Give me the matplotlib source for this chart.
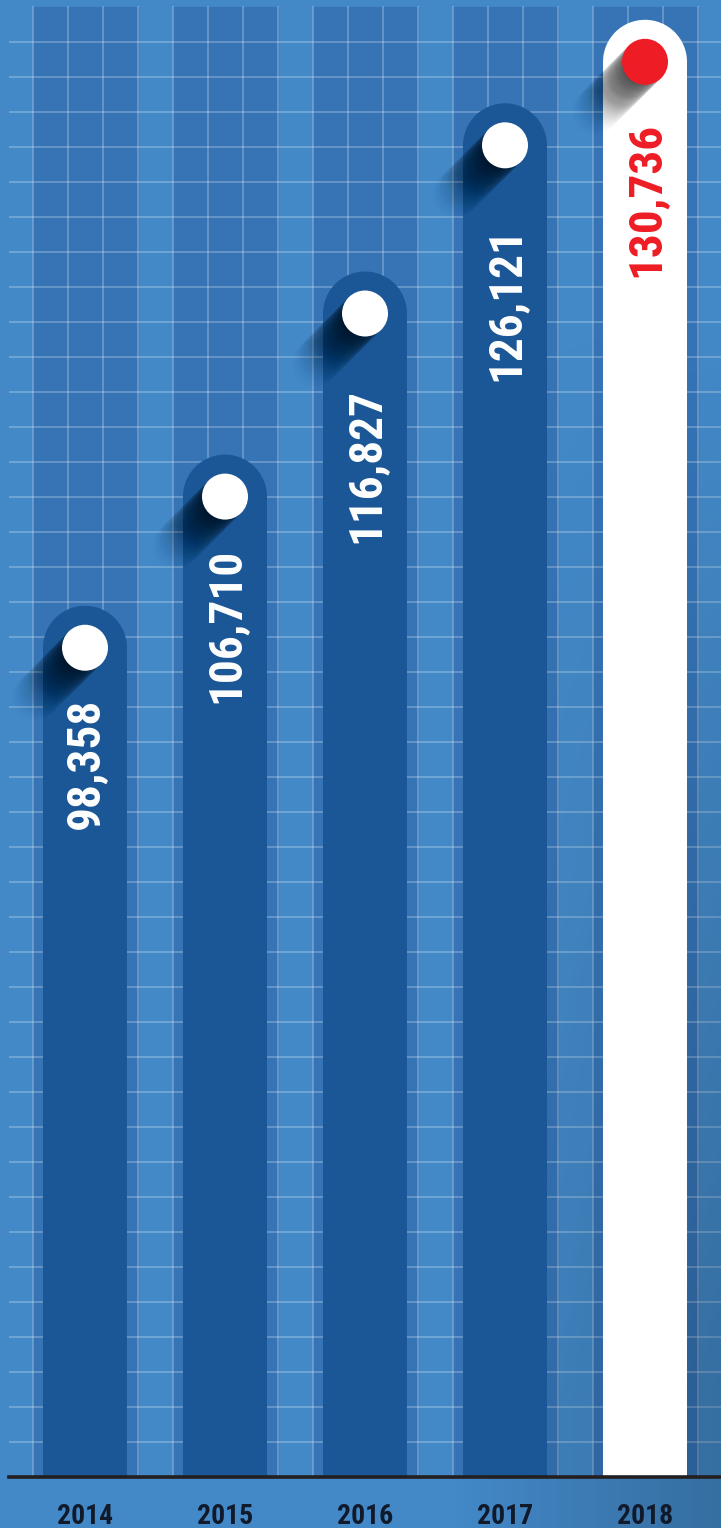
import numpy as np
import matplotlib.pyplot as plt
from matplotlib import font_manager as fm
from matplotlib.patches import Rectangle, Ellipse
from matplotlib.transforms import Affine2D

#%% Data
years = ['2014', '2015', '2016', '2017', '2018']
values = [98358, 106710, 116827, 126121, 130736]
labels = ['98,358', '106,710', '116,827', '126,121', '130,736']

#%% Style / layout (pixels unless noted)
W, H, DPI = 721, 1528, 100
base_col = '#4389c8'
column_col = '#3674b6'
bar_col = '#1b5796'
red = '#ee1c25'
ink = '#111a2a'
y_floor = 50200                 # value where bars start
ylim = (47396, 131830)
xlim = (-85 / 140, (W - 85) / 140)
cap_r = 42                      # bar end radius
dot_r = 23                      # dot radius
label_gap = [92, 93, 116, 123, 102]


def have_font(name):
    try:
        fm.findfont(fm.FontProperties(family=name), fallback_to_default=False)
        return True
    except ValueError:
        return False


### narrow bold face if there is one, else Roboto a bit smaller
if have_font('Roboto Condensed'):
    font, val_size, year_size = ['Roboto Condensed', 'DejaVu Sans'], 34, 20
elif have_font('Liberation Sans Narrow'):
    font, val_size, year_size = ['Liberation Sans Narrow', 'DejaVu Sans'], 34, 20
else:
    font, val_size, year_size = ['Roboto', 'DejaVu Sans'], 30, 17

fig = plt.figure(figsize=(W / DPI, H / DPI), dpi=DPI)

#%% Background grid (pixel coords)
bg = fig.add_axes([0, 0, 1, 1], zorder=0)
bg.add_patch(Rectangle((0, 0), W, H, color=base_col, zorder=0))
for i in range(len(years)):
    cx = 85 + 140 * i
    bg.add_patch(Rectangle((cx - 52.5, 7), 105, 1476 - 7, color=column_col, zorder=1))
bg.hlines(np.arange(42, 1477, 35), 9, W, color='white', alpha=0.3, lw=1.1, zorder=2)
bg.vlines(np.arange(33, W, 35), 6, 1476, color='white', alpha=0.3, lw=1.1, zorder=2)

## darker corner at the bottom right
xx, yy = np.meshgrid(np.arange(W), np.arange(H))
shade = np.zeros((H, W, 4))
shade[..., 3] = 0.2 * np.clip((xx - 450) / 271, 0, 1) * np.clip((yy - 300) / 1100, 0, 1)
bg.imshow(shade, extent=(0, W, H, 0), zorder=3, aspect='auto')
bg.set_xlim(0, W)
bg.set_ylim(H, 0)
bg.axis('off')

#%% Bars
ax = fig.add_axes([0, 0, 1, 1], zorder=1)
ax.set_xlim(*xlim)
ax.set_ylim(*ylim)
ax.patch.set_alpha(0)
ax.axis('off')

ppx = W / (xlim[1] - xlim[0])
ppy = H / (ylim[1] - ylim[0])
rx, ry = cap_r / ppx, cap_r / ppy
dx, dy = dot_r / ppx, dot_r / ppy

for i, (yr, v, lab) in enumerate(zip(years, values, labels)):
    last = i == len(years) - 1
    fc = 'white' if last else bar_col
    dc = red if last else 'white'
    tc = red if last else 'white'
    cy = v - ry
    ax.add_patch(Rectangle((i - rx, y_floor), 2 * rx, cy - y_floor, color=fc, lw=0, zorder=2))
    ax.add_patch(Ellipse((i, cy), 2 * rx, 2 * ry, color=fc, lw=0, zorder=2))
    ## long shadow, fading out to the lower left
    for s in np.arange(1, 78, 1.5):
        off = s / np.sqrt(2)
        ax.add_patch(Ellipse(
            (i, cy), 2 * dx, 2 * dy, color='black', lw=0,
            alpha=0.05 * (1 - s / 78) ** 1.3, zorder=3,
            transform=ax.transData + Affine2D().translate(-off, -off),
        ))
    ax.add_patch(Ellipse((i, cy), 2 * dx, 2 * dy, color=dc, lw=0, zorder=4))
    ax.annotate(
        lab, (i, v), xytext=(0, -label_gap[i] * 72 / DPI), textcoords='offset points',
        rotation=90, ha='center', va='top', color=tc, fontsize=val_size,
        fontweight='bold', family=font, zorder=5,
    )
    ax.annotate(
        yr, (i, y_floor), xytext=(0, -39 * 72 / DPI), textcoords='offset points',
        ha='center', va='center', color=ink, fontsize=year_size,
        fontweight='bold', family=font, zorder=5,
    )

ax.axhline(y_floor, xmin=9 / W, xmax=1, color='#231f20', lw=2.6, zorder=6)

plt.savefig('out.png', dpi=DPI)
